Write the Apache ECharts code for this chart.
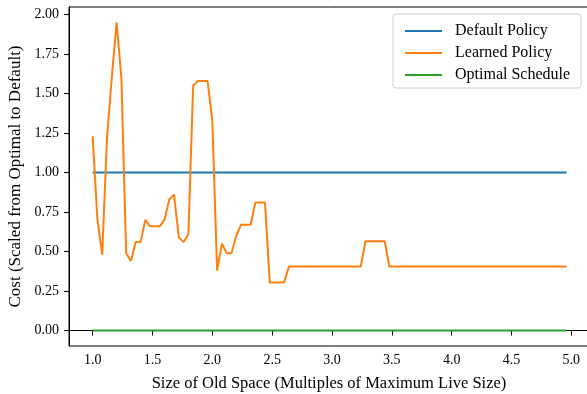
<!DOCTYPE html>
<html>
<head>
<meta charset="utf-8">
<script src="https://cdn.jsdelivr.net/npm/echarts@6/dist/echarts.min.js"></script>
<style>html,body{margin:0;padding:0;background:#fff;}#c{width:587px;height:394px;}</style>
</head>
<body>
<div id="c"></div>
<script>
const xValues = [1.00,1.04,1.08,1.12,1.16,1.20,1.24,1.28,1.32,1.36,1.40,1.44,1.48,1.52,1.56,1.60,1.64,1.68,1.72,1.76,
1.80,1.84,1.88,1.92,1.96,2.00,2.04,2.08,2.12,2.16,2.20,2.24,2.28,2.32,2.36,2.40,2.44,2.48,2.52,2.56,
2.60,2.64,2.68,2.72,2.76,2.80,2.84,2.88,2.92,2.96,3.00,3.04,3.08,3.12,3.16,3.20,3.24,3.28,3.32,3.36,
3.40,3.44,3.48,3.52,3.56,3.60,3.64,3.68,3.72,3.76,3.80,3.84,3.88,3.92,3.96,4.00,4.04,4.08,4.12,4.16,
4.20,4.24,4.28,4.32,4.36,4.40,4.44,4.48,4.52,4.56,4.60,4.64,4.68,4.72,4.76,4.80,4.84,4.88,4.92,4.96];
const learned = [1.23,0.70,0.48,1.22,1.60,1.95,1.60,0.49,0.44,0.56,0.56,0.70,0.66,0.66,0.66,0.70,0.83,0.86,0.59,0.56,
0.61,1.55,1.58,1.58,1.58,1.33,0.38,0.55,0.49,0.49,0.60,0.67,0.67,0.67,0.81,0.81,0.81,0.305,0.305,0.305,
0.305,0.405,0.405,0.405,0.405,0.405,0.405,0.405,0.405,0.405,0.405,0.405,0.405,0.405,0.405,0.405,0.405,0.565,0.565,0.565,
0.565,0.565,0.405,0.405,0.405,0.405,0.405,0.405,0.405,0.405,0.405,0.405,0.405,0.405,0.405,0.405,0.405,0.405,0.405,0.405,
0.405,0.405,0.405,0.405,0.405,0.405,0.405,0.405,0.405,0.405,0.405,0.405,0.405,0.405,0.405,0.405,0.405,0.405,0.405,0.405];
const defaultX = [1.00, 4.96];
const defaultY = [1.0, 1.0];
const optimalX = [1.00, 4.96];
const optimalY = [0.0, 0.0];
const xTicks = [1.0,1.5,2.0,2.5,3.0,3.5,4.0,4.5,5.0];
const yTicks = [0,0.25,0.5,0.75,1.0,1.25,1.5,1.75,2.0];
const seriesNames = ['Default Policy','Learned Policy','Optimal Schedule'];
const colors = ['#1f77b4','#ff7f0e','#2ca02c'];

const zip = (xs, ys) => xs.map((x, i) => [x, ys[i]]);
const FONT = 'Liberation Serif';
const chart = echarts.init(document.getElementById('c'), null, {renderer: 'canvas'});
const lineSeries = (name, data, color) => ({
  name, type: 'line', data, showSymbol: false, symbol: 'none', animation: false,
  lineStyle: {color, width: 2}, itemStyle: {color}, z: 3
});
chart.setOption({
  animation: false,
  color: colors,
  grid: {left: 69, top: 7, right: -2, bottom: 48, show: true, borderColor: '#000', borderWidth: 1, outerBoundsMode: 'none', containLabel: false},
  legend: {
    orient: 'vertical', left: 393, top: 14,
    data: seriesNames.map(n => ({name: n, icon: 'rect'})),
    itemWidth: 37, itemHeight: 2, itemGap: 6,
    padding: [9, 11, 5, 12],
    borderColor: '#cccccc', borderWidth: 1, borderRadius: 3,
    backgroundColor: 'rgba(255,255,255,0.8)',
    textStyle: {fontFamily: FONT, fontSize: 16, color: '#000', padding: [0,0,0,8], lineHeight: 16}
  },
  xAxis: {
    type: 'value', min: 0.8025, max: 5.1475,
    name: 'Size of Old Space (Multiples of Maximum Live Size)', nameLocation: 'middle', nameGap: 29,
    nameTextStyle: {fontFamily: FONT, fontSize: 16.5, color: '#000'},
    axisLine: {show: true, lineStyle: {color: '#000', width: 1}},
    axisTick: {show: true, length: 5, inside: false, customValues: xTicks, lineStyle: {color: '#000', width: 1}},
    axisLabel: {customValues: xTicks, formatter: v => v.toFixed(1), fontFamily: FONT, fontSize: 14, color: '#000', margin: 7},
    splitLine: {show: false}
  },
  yAxis: {
    type: 'value', min: -0.0975, max: 2.0475,
    name: 'Cost (Scaled from Optimal to Default)', nameLocation: 'middle', nameGap: 45, nameRotate: 90,
    nameTextStyle: {fontFamily: FONT, fontSize: 17, color: '#000'},
    axisLine: {show: true, lineStyle: {color: '#000', width: 1}},
    axisTick: {show: true, length: 5, inside: false, customValues: yTicks, lineStyle: {color: '#000', width: 1}},
    axisLabel: {customValues: yTicks, formatter: v => v.toFixed(2), fontFamily: FONT, fontSize: 14, color: '#000', margin: 10},
    splitLine: {show: false}
  },
  series: [
    lineSeries(seriesNames[0], zip(defaultX, defaultY), colors[0]),
    lineSeries(seriesNames[1], zip(xValues, learned), colors[1]),
    lineSeries(seriesNames[2], zip(optimalX, optimalY), colors[2])
  ]
});
</script>
</body>
</html>
